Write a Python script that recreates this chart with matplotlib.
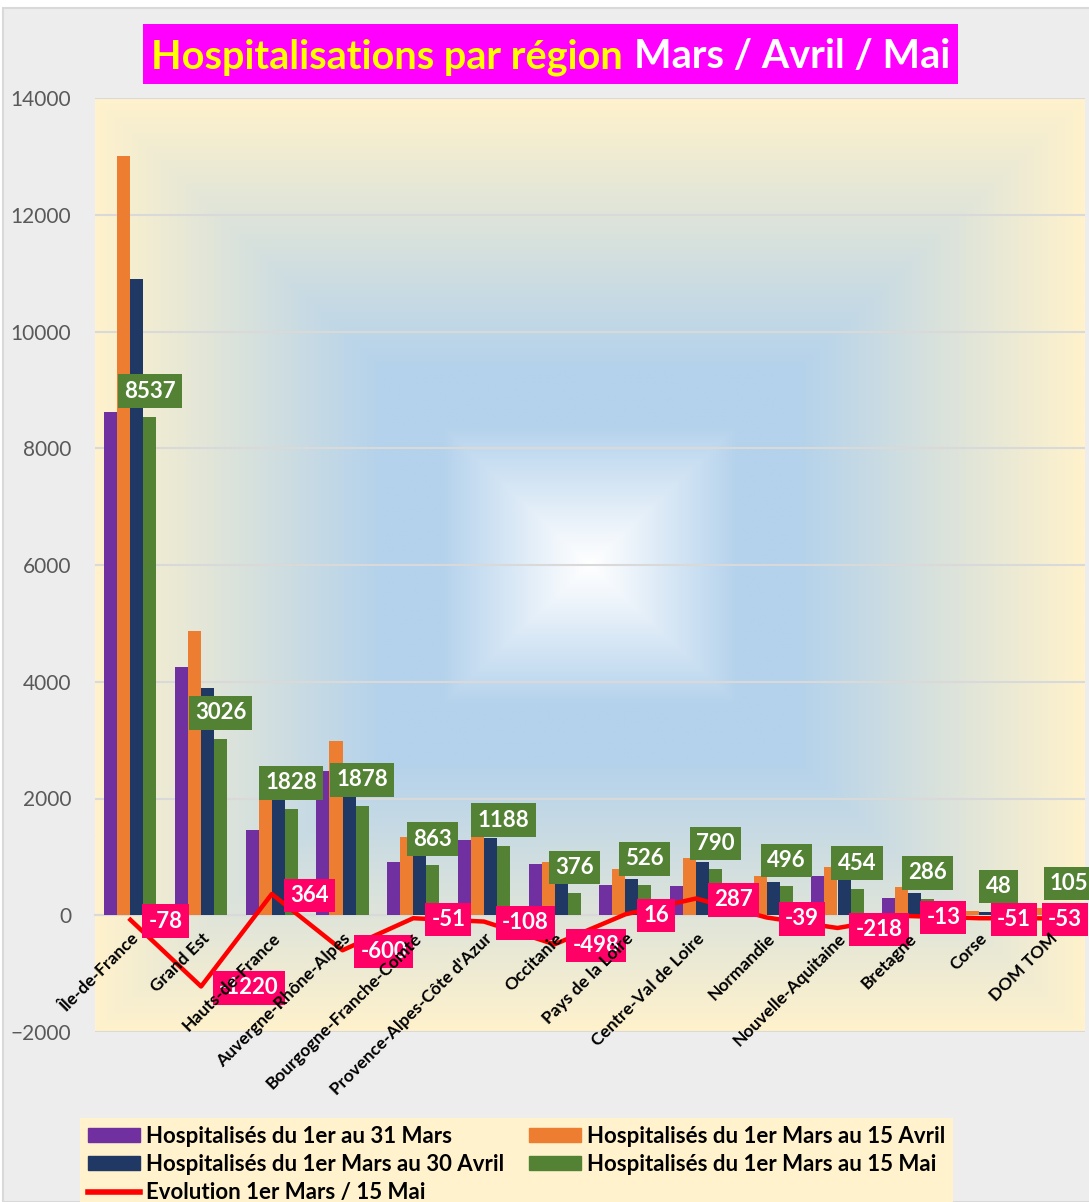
import numpy as np
import matplotlib
matplotlib.use("Agg")
from matplotlib import pyplot as plt
from matplotlib.patches import Patch, Rectangle
from matplotlib.lines import Line2D
from matplotlib.colors import to_rgb

plt.rcParams['font.family'] = ['Lato', 'DejaVu Sans']

regions = ["Île-de-France", "Grand Est", "Hauts-de-France", "Auvergne-Rhône-Alpes",
           "Bourgogne-Franche-Comté", "Provence-Alpes-Côte d'Azur", "Occitanie",
           "Pays de la Loire", "Centre-Val de Loire", "Normandie", "Nouvelle-Aquitaine",
           "Bretagne", "Corse", "DOM TOM"]
mars_31 = [8615, 4246, 1464, 2478, 914, 1296, 874, 510, 503, 535, 672, 299, 99, 158]
avril_15 = [13010, 4868, 2150, 2982, 1337, 1420, 908, 788, 977, 668, 823, 480, 75, 120]
avril_30 = [10900, 3891, 2000, 2250, 1150, 1330, 620, 617, 920, 566, 700, 377, 55, 110]
mai_15 = [8537, 3026, 1828, 1878, 863, 1188, 376, 526, 790, 496, 454, 286, 48, 105]
evolution = [-78, -1220, 364, -600, -51, -108, -498, 16, 287, -39, -218, -13, -51, -53]

series_labels = ["Hospitalisés du 1er au 31 Mars", "Hospitalisés du 1er Mars au 15 Avril",
                 "Hospitalisés du 1er Mars au 30 Avril", "Hospitalisés du 1er Mars au 15 Mai"]
series_colors = ["#7030A0", "#ED7D31", "#1F3864", "#548235"]
line_label = "Evolution 1er Mars / 15 Mai"

W, H = 1089, 1202
fig = plt.figure(figsize=(W / 100, H / 100), dpi=100, facecolor="white")
fig.patches.append(Rectangle((3 / W, 0), 1, 1 - 8 / H, transform=fig.transFigure,
                             facecolor="#EDEDED", edgecolor="#D9D9D9", lw=1.5, zorder=-5))

pos = [95 / W, 1 - 1032 / H, (1085 - 95) / W, (1032 - 98) / H]

# fond en degrade rectangulaire (blanc au centre, bleu, puis jaune)
bg = fig.add_axes(pos, zorder=-1)
yy, xx = np.mgrid[-1:1:500j, -1:1:500j]
d = np.maximum(np.abs(xx), np.abs(yy))
stops = [0.0, 0.06, 0.3, 0.42, 1.0]
cols = np.array([to_rgb("#FFFFFF"), to_rgb("#F2F7FC"), to_rgb("#B4D2EC"),
                 to_rgb("#B4D2EC"), to_rgb("#FFF2CC")])
img = np.stack([np.interp(d, stops, cols[:, k]) for k in range(3)], axis=-1)
bg.imshow(img, extent=[0, 1, 0, 1], aspect="auto", interpolation="bilinear")
bg.axis("off")

ax = fig.add_axes(pos)
ax.set_facecolor("none")

x = np.arange(len(regions))
w = 0.184
series = [mars_31, avril_15, avril_30, mai_15]
for i, vals in enumerate(series):
    ax.bar(x + (i - 1.5) * w, vals, w, color=series_colors[i], zorder=3)

ax.plot(x, evolution, color="#FF0000", lw=3.2, zorder=4)

for i, v in enumerate(mai_15):
    ax.annotate(str(v), xy=(x[i] + 1.5 * w, v), xytext=(0, 18.5), textcoords="offset points",
                ha="center", va="center", color="white", fontweight="bold", fontsize=16,
                bbox=dict(boxstyle="square,pad=0.28", fc="#548235", ec="none"), zorder=6)

n = len(evolution)
for i, v in enumerate(evolution):
    if i < n - 1:
        ax.annotate(str(v), xy=(x[i], v), xytext=(13, -1), textcoords="offset points",
                    ha="left", va="center", color="white", fontweight="bold", fontsize=16,
                    bbox=dict(boxstyle="square,pad=0.28", fc="#FF0066", ec="none"), zorder=7)
    else:
        # dernier label recale dans la zone de tracé
        ax.annotate(str(v), xy=(1, v), xycoords=("axes fraction", "data"),
                    xytext=(-2, -1), textcoords="offset points",
                    ha="right", va="center", color="white", fontweight="bold", fontsize=16,
                    bbox=dict(boxstyle="square,pad=0.28", fc="#FF0066", ec="none"), zorder=7)

ax.set_xlim(-0.5, len(regions) - 0.5)
ax.set_ylim(-2000, 14000)
ax.set_yticks(np.arange(-2000, 14001, 2000))
ax.yaxis.grid(True, color="#D9D9D9", lw=1.5)
ax.set_axisbelow(True)
ax.xaxis.set_zorder(8)

for s in ["top", "right", "left"]:
    ax.spines[s].set_visible(False)
ax.spines["bottom"].set_position(("data", 0))
ax.spines["bottom"].set_color("#D9D9D9")
ax.spines["bottom"].set_linewidth(1.5)

ax.set_xticks(x)
ax.set_xticklabels(regions, rotation=45, ha="right", rotation_mode="anchor",
                   fontweight="bold", fontsize=12.5)
ax.tick_params(axis="x", length=0, pad=11)
ax.tick_params(axis="y", length=0, pad=17, labelsize=15, labelcolor="#595959")

# titre
fig.patches.append(Rectangle((143 / W, 1 - 84 / H), (958 - 143) / W, 60 / H,
                             transform=fig.transFigure, facecolor="#FF00FF",
                             edgecolor="none", zorder=1))
t1 = fig.text(0, 1 - 68 / H, "Hospitalisations par région", color="#FFFF00",
              fontweight="bold", fontsize=28.5, va="baseline", zorder=2)
t2 = fig.text(0, 1 - 68 / H, "Mars / Avril / Mai", color="white",
              fontweight="bold", fontsize=28.5, va="baseline", zorder=2)
fig.canvas.draw()
r = fig.canvas.get_renderer()
w1 = t1.get_window_extent(r).width
w2 = t2.get_window_extent(r).width
gap = 11
start = (143 + 958) / 2 - (w1 + gap + w2) / 2
t1.set_x(start / W)
t2.set_x((start + w1 + gap) / W)

# legende
handles = [Patch(color=c) for c in series_colors]
line_handle = Line2D([], [], color="#FF0000", lw=4)
order = [handles[0], handles[2], line_handle, handles[1], handles[3]]
labels = [series_labels[0], series_labels[2], line_label, series_labels[1], series_labels[3]]
leg = fig.legend(order, labels, loc="upper left", bbox_to_anchor=(80 / W, 1 - 1118 / H),
                 ncol=2, frameon=True, fancybox=False, facecolor="#FFF2CC", edgecolor="none",
                 framealpha=1, prop={"weight": "bold", "size": 16}, handlelength=2.35,
                 handleheight=0.6, labelspacing=0.32, columnspacing=1.1, borderpad=0.35,
                 borderaxespad=0, handletextpad=0.27)

fig.savefig("out.png", dpi=100, facecolor=fig.get_facecolor())
